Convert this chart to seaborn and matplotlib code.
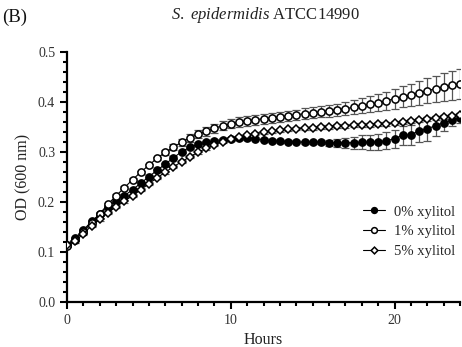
import numpy as np
import matplotlib
matplotlib.use("Agg")
import matplotlib.pyplot as plt
from matplotlib.ticker import MultipleLocator
import seaborn as sns

# time points (every 30 min)
hours = np.arange(0, 24.5, 0.5)

od_0 = [0.114, 0.127, 0.143, 0.161, 0.175, 0.190, 0.202, 0.212, 0.224, 0.237,
        0.250, 0.263, 0.275, 0.288, 0.300, 0.309, 0.315, 0.319, 0.322, 0.324,
        0.326, 0.327, 0.327, 0.326, 0.324, 0.322, 0.321, 0.320, 0.320, 0.319,
        0.319, 0.319, 0.318, 0.318, 0.318, 0.318, 0.319, 0.319, 0.320, 0.322,
        0.326, 0.333, 0.334, 0.342, 0.346, 0.352, 0.358, 0.363, 0.367]
sd_0 = [0.003] * 32 + [0.006, 0.008, 0.010, 0.012, 0.014, 0.015, 0.016, 0.017,
                       0.018, 0.019, 0.020, 0.022, 0.024, 0.020, 0.016, 0.012, 0.010]

od_1 = [0.112, 0.124, 0.140, 0.158, 0.176, 0.195, 0.212, 0.228, 0.244, 0.259,
        0.273, 0.287, 0.299, 0.309, 0.319, 0.328, 0.335, 0.341, 0.347, 0.352,
        0.356, 0.359, 0.362, 0.364, 0.366, 0.368, 0.370, 0.372, 0.374, 0.376,
        0.378, 0.380, 0.382, 0.384, 0.386, 0.389, 0.392, 0.395, 0.398, 0.402,
        0.406, 0.410, 0.414, 0.418, 0.422, 0.426, 0.430, 0.433, 0.436]
sd_1 = [0.003] * 12 + [0.005, 0.006, 0.007, 0.008, 0.008, 0.009, 0.009, 0.009,
                       0.009, 0.010, 0.010, 0.010, 0.010, 0.010, 0.010, 0.010,
                       0.010, 0.011, 0.011, 0.011, 0.012, 0.012, 0.013, 0.014,
                       0.015, 0.016, 0.017, 0.018, 0.020, 0.021, 0.022, 0.024,
                       0.025, 0.026, 0.028, 0.029, 0.030]

od_5 = [0.113, 0.121, 0.136, 0.152, 0.165, 0.178, 0.190, 0.201, 0.212, 0.224,
        0.236, 0.248, 0.259, 0.270, 0.280, 0.290, 0.299, 0.307, 0.314, 0.320,
        0.325, 0.329, 0.333, 0.336, 0.339, 0.341, 0.343, 0.345, 0.346, 0.347,
        0.348, 0.349, 0.350, 0.351, 0.352, 0.353, 0.354, 0.354, 0.355, 0.356,
        0.357, 0.359, 0.361, 0.363, 0.365, 0.367, 0.369, 0.371, 0.373]
sd_5 = [0.003] * 30 + [0.004] * 19

labels = ["0% xylitol", "1% xylitol", "5% xylitol"]

sns.set_style("ticks")
plt.rcParams['font.family'] = ['Liberation Serif', 'DejaVu Serif']
plt.rcParams['mathtext.fontset'] = 'custom'
plt.rcParams['mathtext.rm'] = 'Liberation Serif'
plt.rcParams['mathtext.it'] = 'Liberation Serif:italic'

fig = plt.figure(figsize=(4.62, 3.47), dpi=100)
ax = fig.add_axes([0.145, 0.1305, 0.851, 0.7205])

series = [
    (od_0, sd_0, "o", "black"),
    (od_1, sd_1, "o", "white"),
    (od_5, sd_5, "D", "white"),
]
for (vals, sds, mk, face), lab in zip(series, labels):
    ax.errorbar(hours, vals, yerr=sds, fmt="none", ecolor="#555555",
                elinewidth=0.9, capsize=3, capthick=0.9, zorder=1)
    sns.lineplot(x=hours, y=vals, ax=ax, color="black", linewidth=0.8,
                 marker=mk, markersize=5.2 if mk == "o" else 4.3,
                 markerfacecolor=face, markeredgecolor="black",
                 markeredgewidth=1.1, label=lab, zorder=3)

ax.set_xlim(0, 24)
ax.set_ylim(0, 0.5)
ax.xaxis.set_major_locator(MultipleLocator(10))
ax.xaxis.set_minor_locator(MultipleLocator(1))
ax.yaxis.set_major_locator(MultipleLocator(0.1))
ax.yaxis.set_minor_locator(MultipleLocator(0.02))
ax.yaxis.set_major_formatter(plt.FormatStrFormatter("%.1f"))
ax.tick_params(which="major", direction="out", length=5, width=1.5,
               labelsize=10, color="black", labelcolor="#333333")
ax.tick_params(which="minor", direction="out", length=3, width=1.5, color="black")
sns.despine(ax=ax)
for side in ["left", "bottom"]:
    ax.spines[side].set_linewidth(1.6)
    ax.spines[side].set_color("black")

ax.set_xlabel("Hours", fontsize=11.5, color="#222222", labelpad=4)
ax.set_ylabel("OD (600 nm)", fontsize=11.5, color="#222222", labelpad=5)

ax.legend(loc="center right", bbox_to_anchor=(1.02, 0.28), frameon=False,
          fontsize=10.5, handlelength=1.5, handletextpad=0.6, labelspacing=0.45,
          markerscale=0.8)

fig.text(0.574, 0.958, r"$\it{S.}$ $\it{epidermidis}$ ATCC14990", ha="center",
         va="center", fontsize=12, color="#222222")
fig.text(0.005, 0.95, "(B)", ha="left", va="center", fontsize=13.5, color="#111111")

fig.savefig("out.png", dpi=100)
